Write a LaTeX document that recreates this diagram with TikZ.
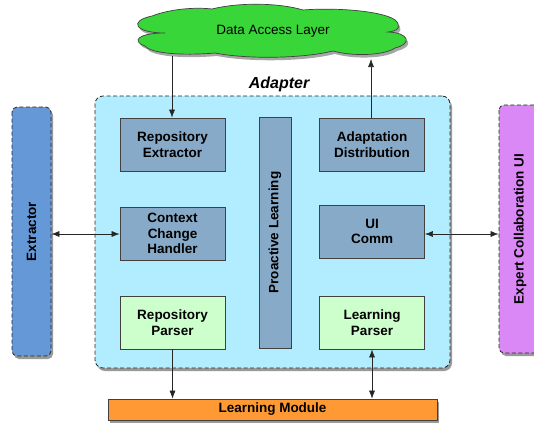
\documentclass[tikz,border=0pt]{standalone}
\usepackage{fontspec}
\setmainfont{Liberation Sans}
\usetikzlibrary{shadows,arrows.meta}
\definecolor{adapterbg}{RGB}{178,236,255}
\definecolor{innerbox}{RGB}{135,170,200}
\definecolor{greenbox}{RGB}{204,255,204}
\definecolor{extrbg}{RGB}{100,152,214}
\definecolor{expbg}{RGB}{218,136,245}
\definecolor{cloudgreen}{RGB}{56,214,56}
\definecolor{orangebg}{RGB}{255,153,51}
\begin{document}
\begin{tikzpicture}[x=1pt,y=-1pt,
  font=\fontsize{13.5}{15.5}\selectfont\bfseries,
  shad/.style={drop shadow={shadow xshift=2pt,shadow yshift=-3pt,opacity=0.4,fill=black}},
  dashbox/.style={draw=black!85, line width=0.8pt, dash pattern=on 4pt off 2.5pt},
  innerbox/.style={draw=black!75, line width=0.8pt, fill=innerbox, minimum width=105pt, minimum height=53pt, align=center, inner sep=0pt},
  greenbox/.style={innerbox, fill=greenbox},
  arr/.style={-{Latex[length=8pt,width=6pt]}, line width=0.6pt, draw=black!85},
  dbl/.style={{Latex[length=8pt,width=6pt]}-{Latex[length=8pt,width=6pt]}, line width=0.6pt, draw=black!85}
]
\useasboundingbox (0,0) rectangle (534,423);

% cloud
\def\cloudpath{(165,33) .. controls (135,33) and (128,21) .. (152,16)
  .. controls (170,9) and (195,7) .. (212,9)
  .. controls (240,2) and (280,3) .. (303,10)
  .. controls (340,7) and (396,12) .. (398,24)
  .. controls (400,29) and (396,31) .. (388,32)
  .. controls (410,33) and (412,44) .. (395,48)
  .. controls (385,55) and (355,57) .. (333,51)
  .. controls (300,59) and (245,59) .. (215,53)
  .. controls (180,56) and (150,53) .. (145,46)
  .. controls (131,41) and (138,33) .. (165,33) -- cycle}
\fill[black, opacity=0.35, xshift=2pt, yshift=-3pt] \cloudpath;
\draw[draw=black!75, line width=0.7pt, fill=cloudgreen] \cloudpath;
\node[font=\fontsize{13.5}{16}\selectfont] (dal) at (273,31) {Data Access Layer};

% adapter
\node[font=\fontsize{16}{18}\selectfont\bfseries\itshape] (adlbl) at (279,84) {Adapter};
\node[dashbox, rounded corners=8pt, fill=adapterbg, shad,
      minimum width=355pt, minimum height=272pt] (adapter) at (272.5,232) {};

% side boxes
\node[dashbox, rounded corners=5pt, fill=extrbg, shad, rotate=90,
      minimum width=249pt, minimum height=39pt, inner sep=0pt] (ext) at (31.5,231.5) {Extractor};
\node[dashbox, rounded corners=5pt, fill=expbg, shad, rotate=90,
      minimum width=248pt, minimum height=42pt, inner sep=0pt] (exp) at (520,229) {Expert Collaboration UI};

% learning module
\node[draw=black!75, line width=0.7pt, fill=orangebg, shad,
      minimum width=329pt, minimum height=21pt, inner sep=0pt] (lm) at (272.5,409.5) {Learning Module};

% inner boxes
\node[innerbox] (re) at (172.5,144.5) {Repository\\Extractor};
\node[innerbox] (cch) at (172.5,233.5) {Context\\Change\\Handler};
\node[greenbox] (rp) at (172.5,322.5) {Repository\\Parser};
\node[innerbox] (ad) at (372,144.5) {Adaptation\\Distribution};
\node[innerbox] (ui) at (372,231.5) {UI\\Comm};
\node[greenbox] (lp) at (372,322.5) {Learning\\Parser};
\node[innerbox, rotate=90, minimum width=231pt, minimum height=32pt] (pl) at (275,232.5) {Proactive Learning};

% connectors
\coordinate (c1) at (172,56);
\coordinate (c2) at (371,59);
\draw[arr] (c1) -- (re.north -| c1);
\draw[arr] (ad.north -| c2) -- (c2);
\draw[dbl] (ext.south |- 0,234) -- (cch.west |- 0,234);
\draw[dbl] (ui.east |- 0,234) -- (exp.north |- 0,234);
\draw[arr] (rp.south) -- (lm.north -| rp.south);
\draw[dbl] (lp.south) -- (lm.north -| lp.south);
\end{tikzpicture}
\end{document}
